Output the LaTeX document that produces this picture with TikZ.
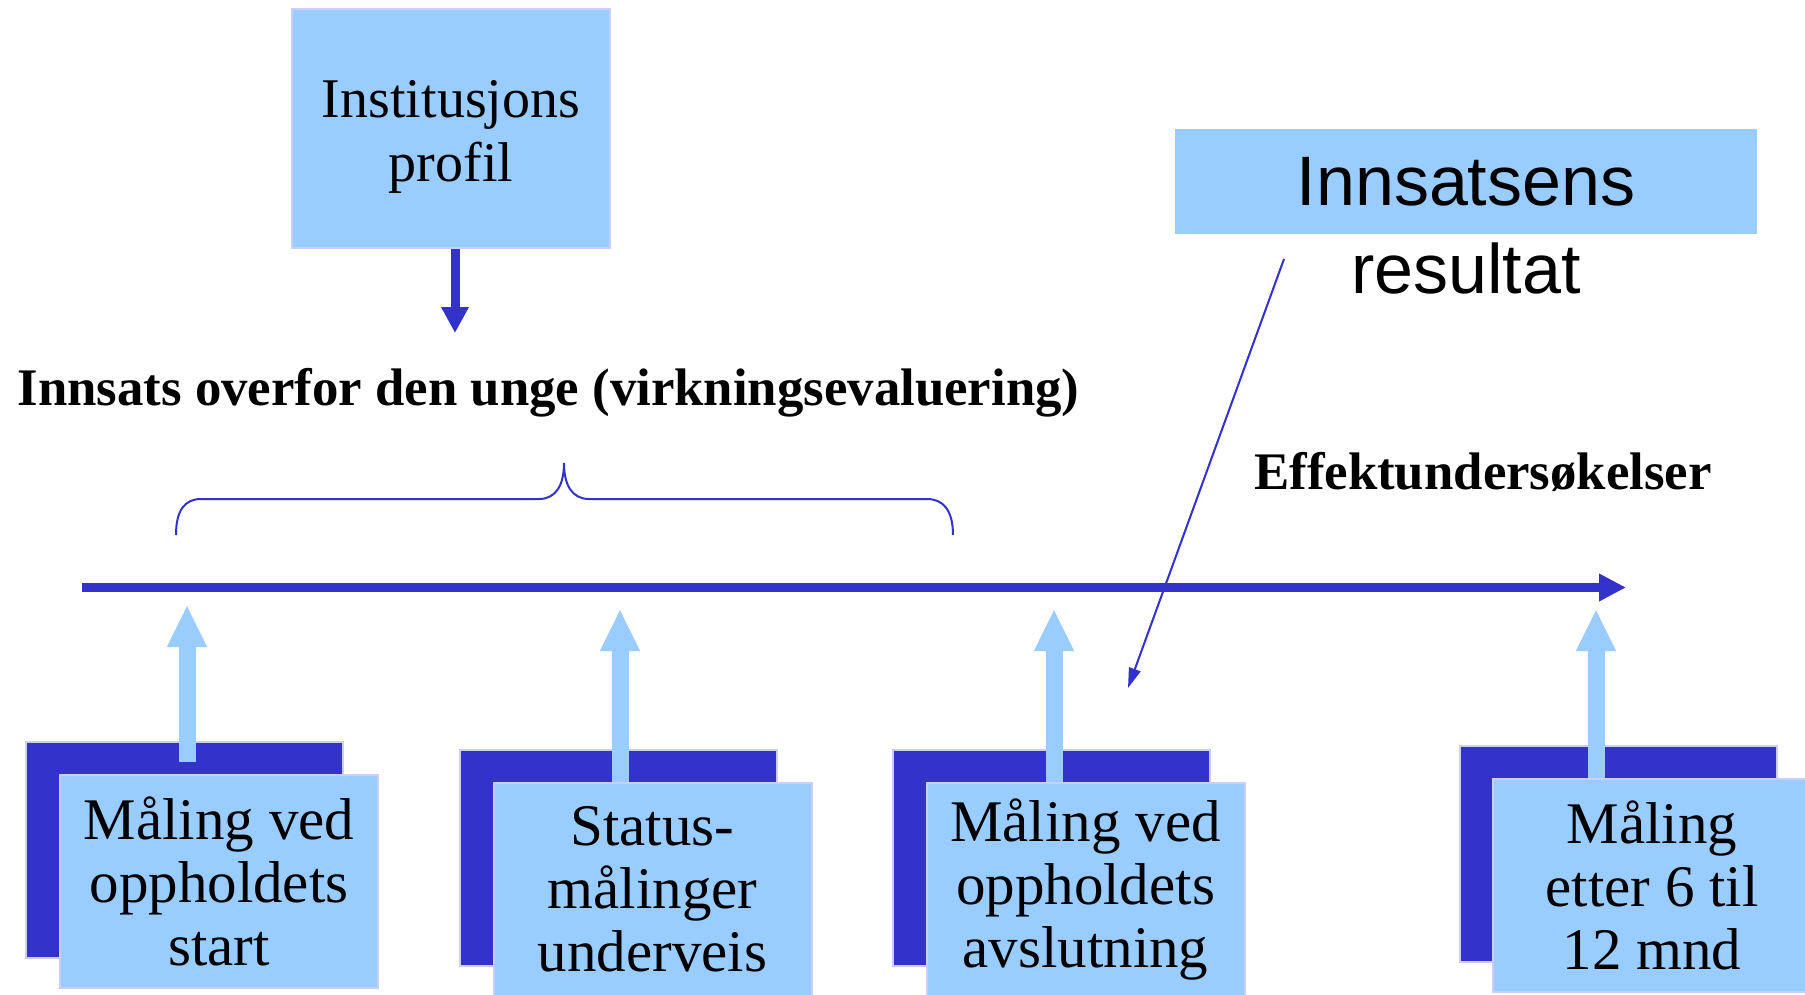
\documentclass[tikz,border=0pt]{standalone}
\usepackage{fontspec}
\setmainfont{Liberation Serif}
\newfontfamily\arialfont{Liberation Sans}
\usetikzlibrary{positioning,arrows.meta}
\definecolor{darkblue}{RGB}{51,51,204}
\definecolor{lightblue}{RGB}{153,204,255}
\definecolor{lavender}{RGB}{204,204,255}

\begin{document}
\begin{tikzpicture}[x=0.5pt,y=-0.5pt,
  backbox/.style={draw=lavender,fill=darkblue,line width=1pt,minimum width=158.5pt,minimum height=108pt,inner sep=0pt},
  frontbox/.style={draw=lavender,fill=lightblue,line width=1pt,minimum width=159pt,minimum height=106.5pt,inner sep=0pt,align=center,font=\fontsize{29.5}{31.5}\selectfont},
  uparrow/.style={draw=lightblue,line width=8.5pt,-{Triangle[length=21pt,width=18.5pt]}},
  boldlabel/.style={inner sep=0pt,font=\fontsize{26.4}{30}\selectfont\bfseries}]
\useasboundingbox (0,0) rectangle (1805,995);

% top box and the arrow below it
\node[draw=lavender,fill=lightblue,line width=1pt,minimum width=159pt,minimum height=119.5pt,inner sep=0pt,align=center,font=\fontsize{28}{32}\selectfont] (profil) at (451,128.5) {\rule{0pt}{27pt}Institusjons\\profil};
\coordinate (profil tip) at (455,333);
\draw[darkblue,line width=4.5pt,-{Triangle[length=13pt,width=13pt]}] (profil.south -| profil tip) -- (profil tip);

% Text Node
\node[boldlabel] (innsats) at (548.5,393) {Innsats overfor den unge (virkningsevaluering)};

% brace
\coordinate (brace left) at (176,535);
\coordinate (brace right) at (953,535);
\draw[darkblue,line width=1pt] (brace left) .. controls (176,510) and (185,499) .. (201,499) -- (539,499)
  .. controls (556,499) and (564,485) .. (564,463) .. controls (564,485) and (572,499) .. (589,499) -- (927,499)
  .. controls (943,499) and (953,510) .. (brace right);

% result box top right
\node[fill=lightblue,minimum width=291pt,minimum height=52.5pt,inner sep=0pt,font=\arialfont\fontsize{35}{42}\selectfont] (result) at (1466,181.5) {Innsatsens};
\node[below=4pt of result,inner sep=0pt,font=\arialfont\fontsize{35}{42}\selectfont] (result text) {resultat};
\coordinate (result from) at (1284,259);
\coordinate (result to) at (1128,688);
\draw[darkblue,line width=1pt,-{Triangle[length=10pt,width=6pt]}] (result from) -- (result to);

% Text Node
\node[boldlabel] (effekt) at (1483,472) {Effektundersøkelser};

% time line
\coordinate (line start) at (82,587.5);
\coordinate (line end) at (1626,587.5);
\draw[darkblue,line width=4.5pt,-{Triangle[length=13.5pt,width=13pt]}] (line start) -- (line end);

% measurement boxes
\node[backbox] (back1) at (184.5,850) {};
\node[backbox] (back2) at (618.5,858) {};
\node[backbox] (back3) at (1051,858) {};
\node[backbox] (back4) at (1618,853.5) {};
\node[frontbox] (front1) at (219,881.5) {Måling ved\\oppholdets\\start};
\node[frontbox] (front2) at (652.5,889.5) {Status-\\målinger\\underveis};
\node[frontbox] (front3) at (1085.5,889.5) {Måling ved\\oppholdets\\avslutning};
\node[frontbox] (front4) at (1652,885.5) {Måling\\etter 6 til\\12 mnd};

% arrows up to the time line
\coordinate (tip1) at (187,605);
\coordinate (tip2) at (620,609);
\coordinate (tip3) at (1054,609);
\coordinate (tip4) at (1596,609);
\draw[uparrow] ([yshift=6pt]tip1 |- front1.north) -- (tip1);
\draw[uparrow] (tip2 |- front2.north) -- (tip2);
\draw[uparrow] (tip3 |- front3.north) -- (tip3);
\draw[uparrow] (tip4 |- front4.north) -- (tip4);
\end{tikzpicture}
\end{document}
